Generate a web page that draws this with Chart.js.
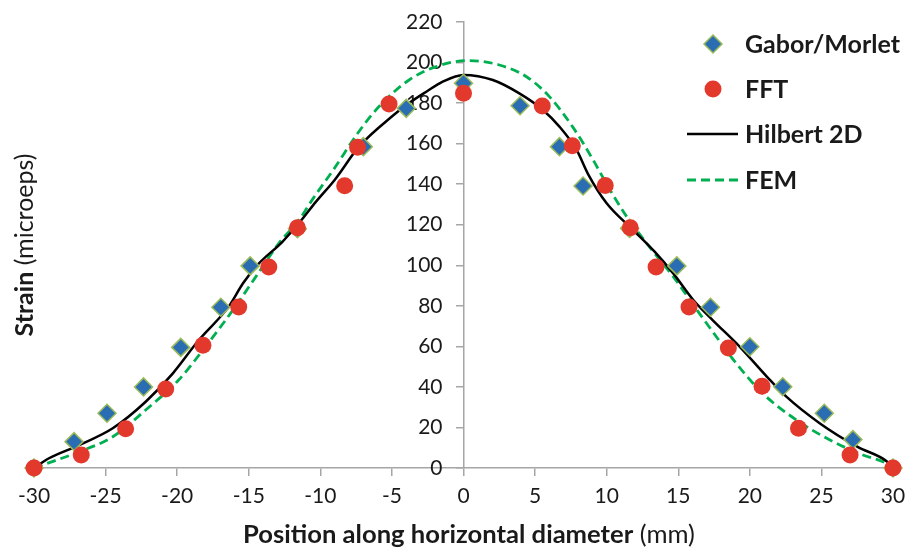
<!DOCTYPE html>
<html>
<head>
<meta charset="utf-8">
<title>Strain along horizontal diameter</title>
<script src="https://cdn.jsdelivr.net/npm/chart.js@4.4.1/dist/chart.umd.min.js"></script>
<style>
  html, body { margin: 0; padding: 0; background: #ffffff; }
  #wrap { width: 907px; height: 549px; }
</style>
</head>
<body>
<div id="wrap"><canvas id="strainChart" width="907" height="549"></canvas></div>
<script>
// measured points (mm, microeps)
var gaborX = [-30, -27.2, -24.9, -22.35, -19.75, -16.95, -14.9, -11.6, -7.0, -4.0, 0, 3.95, 6.7, 8.35, 11.6, 14.9, 17.25, 20.0, 22.3, 25.2, 27.2, 30];
var gaborY = [0, 13, 27, 40, 59.5, 79.3, 99.7, 118, 158.5, 177.4, 189.8, 178.7, 158.5, 139.1, 118.2, 99.7, 79.3, 59.8, 40.1, 27, 14, 0];

var fftX = [-30, -26.7, -23.6, -20.8, -18.2, -15.7, -13.6, -11.6, -8.3, -7.4, -5.2, 0, 5.5, 7.6, 9.9, 11.65, 13.45, 15.75, 18.5, 20.85, 23.4, 27.0, 30];
var fftY = [0, 6.4, 19.4, 39, 60.5, 79.4, 99.2, 118.5, 139.2, 158.2, 179.6, 184.8, 178.6, 159, 139.3, 118.5, 99.1, 79.4, 59.2, 40.3, 19.6, 6.4, 0];

// Hilbert 2D profile
var hilbertX = [-30, -28.95, -26.85, -24.5, -22.2, -20.3, -18.5, -16.4, -15.4, -14.4, -12.65, -11.5, -10.3, -9.0, -7.3, -4.9, -3.8, -2.6, -1.45, 0, 2.05, 3.9, 5.55, 6.7, 7.9, 8.7, 10.0, 11.85, 13.35, 14.65, 16.05, 17.4, 19.3, 21.2, 22.55, 24.9, 27.5, 29.6, 30];
var hilbertY = [0, 4.8, 11.3, 19.6, 32.7, 46.7, 63, 79.6, 91.1, 100.1, 111.6, 120.7, 131.4, 142.1, 158.5, 174, 180, 185.6, 190.6, 193.9, 191.4, 184.8, 176.6, 168.4, 156.9, 145, 130.6, 117.4, 106.7, 96, 82.9, 73, 59.8, 45, 35.2, 22, 10.5, 3.1, 0];

// FEM solution
var femX = [-30, -29.4, -26.85, -24.5, -22.2, -19.9, -18.2, -16.1, -14.5, -12.9, -11.5, -10.5, -9.1, -7.3, -5.9, -3.8, -1.9, 0.3, 2.5, 4.4, 6.0, 7.65, 9.05, 10.0, 11.4, 13.0, 14.65, 16.3, 18.0, 19.05, 20.9, 23.25, 25.6, 27.9, 29.55, 30];
var femY = [0, 1.5, 8, 15.4, 28.6, 43.4, 58.2, 78, 94.4, 110.8, 122.3, 133, 147, 166, 178.3, 191.4, 198, 201, 198.8, 193, 183.2, 168, 152, 140, 124, 109, 94.4, 78, 61.5, 51.6, 36.8, 23.7, 13.8, 6.4, 2.3, 0];

var seriesNames = ["Gabor/Morlet", "FFT", "Hilbert 2D", "FEM"];
var xTitle = ["Position along horizontal diameter", " (mm)"];
var yTitle = ["Strain", " (microeps)"];

function toPoints(xs, ys) {
  return xs.map(function (x, i) { return { x: x, y: ys[i] }; });
}

var FONT = "Lato";
var AXIS_GREY = "#a6a6a6";

// draws bold + regular text pieces as one centred run
function drawRun(ctx, parts, cx, baseline) {
  var total = 0;
  parts.forEach(function (p) { ctx.font = p.font; total += ctx.measureText(p.text).width; });
  var x = cx - total / 2;
  ctx.textAlign = "left";
  ctx.textBaseline = "alphabetic";
  parts.forEach(function (p) {
    ctx.font = p.font;
    ctx.fillText(p.text, x, baseline);
    x += ctx.measureText(p.text).width;
  });
}

var axisTitles = {
  id: "axisTitles",
  afterDraw: function (chart) {
    var ctx = chart.ctx;
    ctx.save();
    ctx.fillStyle = "#1a1a1a";
    drawRun(ctx, [
      { text: xTitle[0], font: "bold 25.6px " + FONT },
      { text: xTitle[1], font: "25.6px " + FONT }
    ], 469, 543);
    ctx.translate(33, 245);
    ctx.rotate(-Math.PI / 2);
    drawRun(ctx, [
      { text: yTitle[0], font: "bold 25px " + FONT },
      { text: yTitle[1], font: "25px " + FONT }
    ], 0, 0);
    ctx.restore();
  }
};

var cornerLegend = {
  id: "cornerLegend",
  afterDraw: function (chart) {
    var ctx = chart.ctx;
    var ds = chart.data.datasets;
    var markX = 713, textX = 745;
    var rowsY = [44, 89, 134, 180];
    ctx.save();
    ds.forEach(function (d, i) {
      var y = rowsY[i];
      if (d.showLine) {
        ctx.beginPath();
        ctx.strokeStyle = d.borderColor;
        ctx.lineWidth = d.borderWidth;
        ctx.setLineDash(d.borderDash || []);
        ctx.moveTo(687, y);
        ctx.lineTo(738, y);
        ctx.stroke();
        ctx.setLineDash([]);
      } else if (d.pointStyle === "rectRot") {
        var r = d.pointRadius;
        ctx.beginPath();
        ctx.moveTo(markX, y - r);
        ctx.lineTo(markX + r, y);
        ctx.lineTo(markX, y + r);
        ctx.lineTo(markX - r, y);
        ctx.closePath();
        ctx.fillStyle = d.pointBackgroundColor;
        ctx.fill();
        ctx.lineWidth = d.pointBorderWidth;
        ctx.strokeStyle = d.pointBorderColor;
        ctx.stroke();
      } else {
        ctx.beginPath();
        ctx.arc(markX, y, d.pointRadius, 0, Math.PI * 2);
        ctx.fillStyle = d.pointBackgroundColor;
        ctx.fill();
      }
      ctx.fillStyle = "#1a1a1a";
      ctx.font = "bold 25px " + FONT;
      ctx.textAlign = "left";
      ctx.textBaseline = "middle";
      ctx.fillText(d.label, textX, y + 1);
    });
    ctx.restore();
  }
};

var ctx = document.getElementById("strainChart").getContext("2d");
var chart = new Chart(ctx, {
  type: "scatter",
  data: {
    datasets: [
      {
        label: seriesNames[0],
        data: toPoints(gaborX, gaborY),
        pointStyle: "rectRot",
        pointRadius: 9,
        pointBackgroundColor: "#2b6db3",
        pointBorderColor: "#9bbb59",
        pointBorderWidth: 1.5,
        showLine: false,
        clip: false,
        order: 1
      },
      {
        label: seriesNames[1],
        data: toPoints(fftX, fftY),
        pointStyle: "circle",
        pointRadius: 8.5,
        pointBackgroundColor: "#e3392d",
        pointBorderColor: "#e3392d",
        pointBorderWidth: 0,
        showLine: false,
        clip: false,
        order: 0
      },
      {
        label: seriesNames[2],
        data: toPoints(hilbertX, hilbertY),
        showLine: true,
        borderColor: "#000000",
        borderWidth: 2.5,
        pointRadius: 0,
        cubicInterpolationMode: "monotone",
        clip: false,
        order: 2
      },
      {
        label: seriesNames[3],
        data: toPoints(femX, femY),
        showLine: true,
        borderColor: "#00b050",
        borderWidth: 2.8,
        borderDash: [9, 5],
        pointRadius: 0,
        cubicInterpolationMode: "monotone",
        clip: false,
        order: 3
      }
    ]
  },
  options: {
    responsive: false,
    animation: false,
    layout: { padding: { left: 34, right: 14, top: 22, bottom: 41 } },
    plugins: {
      legend: { display: false },
      tooltip: { enabled: false }
    },
    scales: {
      x: {
        type: "linear",
        min: -30,
        max: 30,
        ticks: { stepSize: 5, color: "#1a1a1a", font: { family: FONT, size: 21 }, padding: 8 },
        grid: { drawOnChartArea: false, drawTicks: true, tickLength: 8, color: AXIS_GREY, lineWidth: 1.5 },
        border: { color: AXIS_GREY, width: 1.5 },
        afterFit: function (s) { s.paddingLeft = 0; s.paddingRight = 0; s.height = 40; }
      },
      y: {
        type: "linear",
        position: "center",
        min: 0,
        max: 220,
        ticks: { stepSize: 20, color: "#1a1a1a", font: { family: FONT, size: 21 }, padding: 14 },
        grid: { drawOnChartArea: false, drawTicks: true, tickLength: 7, color: AXIS_GREY, lineWidth: 1.5 },
        border: { color: AXIS_GREY, width: 1.5 },
        afterFit: function (s) { s.width = 0; s.paddingTop = 0; s.paddingBottom = 0; }
      }
    }
  },
  plugins: [axisTitles, cornerLegend]
});
</script>
</body>
</html>
